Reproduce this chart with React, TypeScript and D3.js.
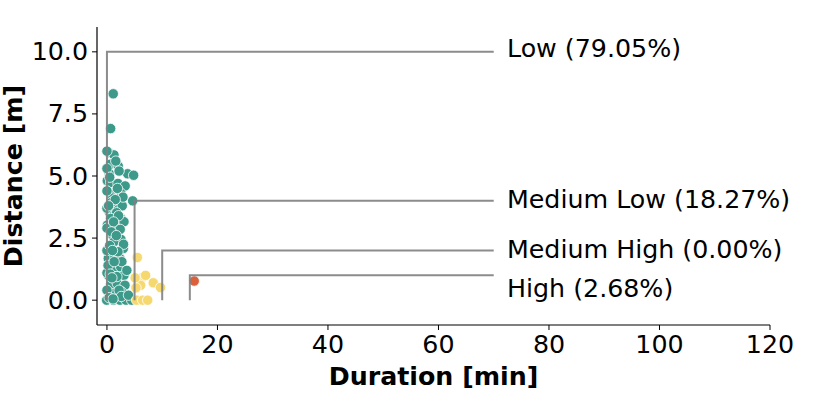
import React from "react";
import * as d3 from "d3";

const lowDuration = [0.36,1.27,0.67,2.05,3.74,4.83,0.42,0.06,0.67,2.0,3.3,0.78,2.53,4.65,1.03,1.27,2.77,0.42,1.75,0.67,2.53,0.06,1.45,3.08,1.03,2.53,1.27,2.95,0.24,1.45,2.35,1.45,2.48,0.24,1.45,3.08,0.67,1.87,3.26,1.14,2.66,-0.05,1.14,2.35,3.44,4.47,1.14,0.67,0.0,0.0,0.0,0.0,0.0,0.0,0.0,0.0,1.6,2.2,0.5,1.9,2.9,0.9,1.5,2.1,0.3,1.2,2.4,0.8,1.7,3.0,0.5,2.0,1.0,2.7,0.2,1.3,3.6,0.6,1.8,2.2,0.4,2.6,1.1,0.9,3.9];
const lowDistance = [5.94,5.85,5.48,5.4,5.09,5.03,5.1,4.81,4.74,4.7,4.6,4.3,4.3,4.0,4.11,3.83,3.8,3.56,3.52,3.29,3.29,3.02,3.02,3.16,2.62,2.45,2.35,2.08,1.68,1.75,1.68,1.28,1.34,1.0,0.94,1.0,0.6,0.67,0.6,0.27,0.33,0.0,0.0,0.0,0.0,0.0,8.31,6.91,6.0,5.3,4.4,3.7,2.9,2.0,1.1,0.4,5.6,5.2,4.95,4.5,4.15,3.95,4.05,3.4,3.8,3.15,2.85,2.75,2.6,2.25,2.2,1.95,2.0,1.55,1.4,1.55,1.2,1.05,0.95,0.4,0.1,0.15,0.05,0.9,0.2];

const mlDuration = [5.49,6.57,6.1,5.25,8.38,9.7,5.37,6.46,7.37,5.1,7.0];
const mlDistance = [1.72,0.94,0.6,0.5,0.7,0.51,0.0,0.0,0.0,0.9,1.0];

const highDuration = [15.8];
const highDistance = [0.77];

const categoryLabels = ["Low (79.05%)", "Medium Low (18.27%)", "Medium High (0.00%)", "High (2.68%)"];
const thresholdDuration = [0, 5, 10, 15];
const thresholdDistance = [10, 4, 2, 1];
const labelDistance = [10.15, 4.05, 2.05, 0.45];
const labelEndDuration = 70;
const labelStartDuration = 72.4;

const xTicks = [0, 20, 40, 60, 80, 100, 120];
const yTicks = [0, 2.5, 5, 7.5, 10];

export default function App() {
  const W = 830, H = 415;
  const left = 97, right = 770, top = 27, bottom = 325;
  const x = d3.scaleLinear().domain([-1.8, 120]).range([left, right]);
  const y = d3.scaleLinear().domain([-1, 11]).range([bottom, top]);
  const font = "DejaVu Sans, sans-serif";
  const teal = "#3d9a8a";
  const yellow = "#f6d870";
  const red = "#d9623d";
  const fs = 25.3;

  const pts = (xs: number[], ys: number[], color: string, key: string) =>
    xs.map((d, i) => (
      <circle key={key + i} cx={x(d)} cy={y(ys[i])} r={5.2} fill={color} stroke="white" strokeWidth={0.8} />
    ));

  return (
    <svg width={W} height={H} style={{ position: "absolute", left: 0, top: 0 }} fontFamily={font}>
      <rect width={W} height={H} fill="white" />
      {pts(lowDuration, lowDistance, teal, "l")}
      {pts(mlDuration, mlDistance, yellow, "m")}
      {pts(highDuration, highDistance, red, "h")}
      {thresholdDuration.map((t, i) => (
        <g key={"a" + i}>
          <path
            d={`M${x(t)},${y(0)}V${y(thresholdDistance[i])}H${x(labelEndDuration)}`}
            fill="none"
            stroke="#7f7f7f"
            strokeWidth={2}
            strokeOpacity={0.9}
          />
          <text x={x(labelStartDuration)} y={y(labelDistance[i])} fontSize={fs} dominantBaseline="central" fill="black">
            {categoryLabels[i]}
          </text>
        </g>
      ))}
      <line x1={left} x2={right} y1={bottom} y2={bottom} stroke="black" strokeWidth={1.2} />
      <line x1={left} x2={left} y1={top} y2={bottom} stroke="black" strokeWidth={1.2} />
      {xTicks.map((t) => (
        <g key={"x" + t}>
          <line x1={x(t)} x2={x(t)} y1={bottom} y2={bottom + 5} stroke="black" strokeWidth={1} />
          <text x={x(t)} y={bottom + 28} fontSize={fs} textAnchor="middle">{t}</text>
        </g>
      ))}
      {yTicks.map((t) => (
        <g key={"y" + t}>
          <line x1={left - 5} x2={left} y1={y(t)} y2={y(t)} stroke="black" strokeWidth={1} />
          <text x={left - 9} y={y(t)} fontSize={fs} textAnchor="end" dominantBaseline="central">{t.toFixed(1)}</text>
        </g>
      ))}
      <text x={(left + right) / 2} y={385} fontSize={fs} fontWeight="bold" textAnchor="middle">Duration [min]</text>
      <text transform={`translate(22,${(top + bottom) / 2}) rotate(-90)`} fontSize={fs} fontWeight="bold" textAnchor="middle">Distance [m]</text>
    </svg>
  );
}
